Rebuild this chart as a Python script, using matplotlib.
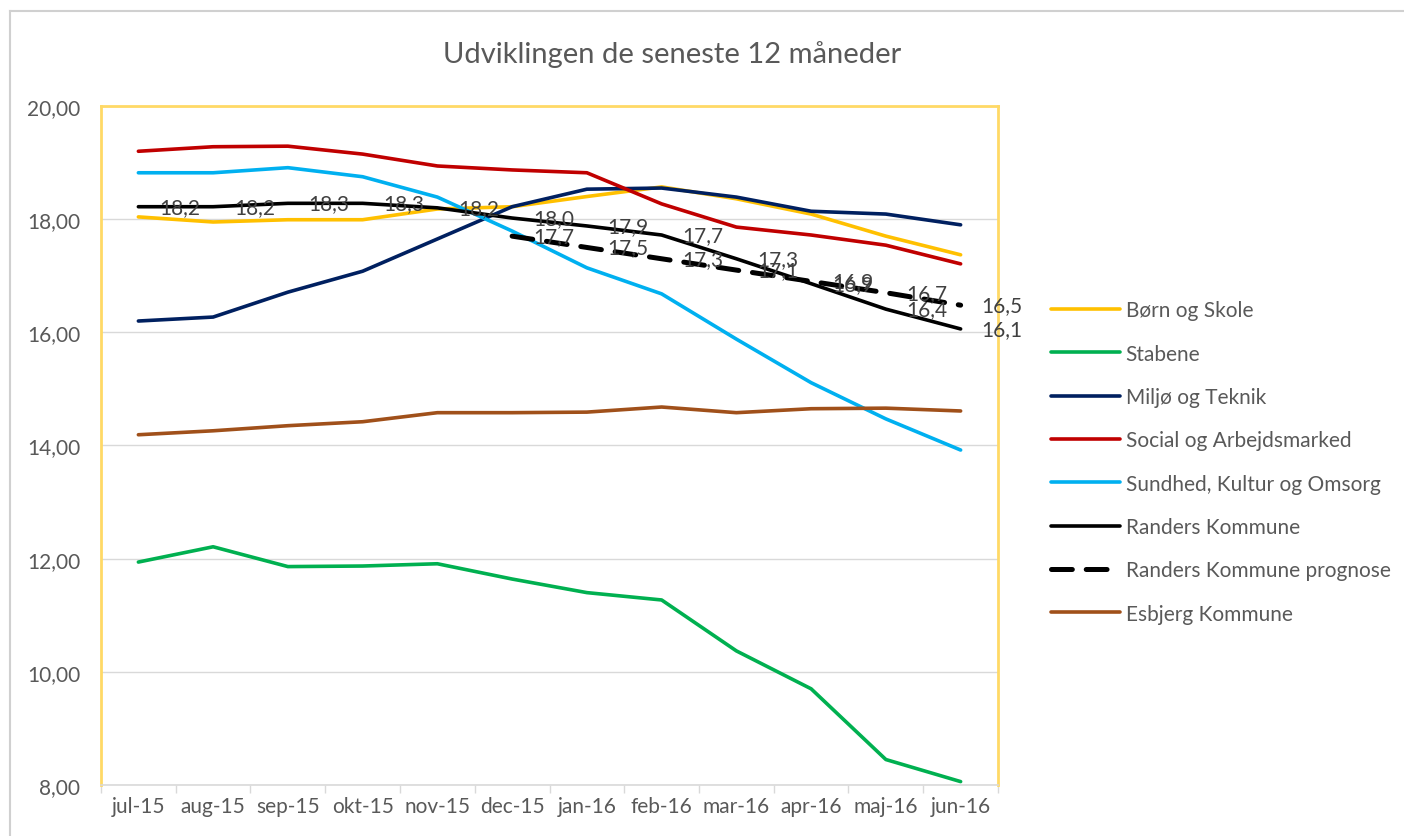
import matplotlib
matplotlib.use("Agg")
import numpy as np
import matplotlib.pyplot as plt
from matplotlib.lines import Line2D
from matplotlib.ticker import FuncFormatter, FixedLocator

plt.rcParams["font.family"] = ["Lato", "DejaVu Sans"]
plt.rcParams["lines.scale_dashes"] = False

maaneder = ["jul-15", "aug-15", "sep-15", "okt-15", "nov-15", "dec-15",
            "jan-16", "feb-16", "mar-16", "apr-16", "maj-16", "jun-16"]

born_skole = [18.04, 17.95, 17.99, 17.99, 18.18, 18.22, 18.40, 18.57, 18.36, 18.09, 17.70, 17.37]
stabene = [11.94, 12.21, 11.86, 11.87, 11.91, 11.64, 11.40, 11.27, 10.37, 9.70, 8.45, 8.06]
miljo_teknik = [16.20, 16.27, 16.71, 17.08, 17.65, 18.22, 18.53, 18.55, 18.39, 18.14, 18.09, 17.90]
social = [19.20, 19.28, 19.29, 19.15, 18.94, 18.87, 18.82, 18.27, 17.86, 17.72, 17.54, 17.21]
sundhed = [18.82, 18.82, 18.91, 18.75, 18.39, 17.79, 17.14, 16.68, 15.88, 15.11, 14.47, 13.92]
randers = [18.22, 18.22, 18.28, 18.28, 18.20, 18.02, 17.88, 17.72, 17.30, 16.86, 16.41, 16.06]
randers_prognose = [np.nan] * 5 + [17.70, 17.50, 17.30, 17.10, 16.90, 16.70, 16.48]
esbjerg = [14.19, 14.26, 14.35, 14.42, 14.58, 14.58, 14.59, 14.68, 14.58, 14.65, 14.66, 14.61]

serier = [
    ("Børn og Skole", born_skole, "#FFC000", "-"),
    ("Stabene", stabene, "#00B050", "-"),
    ("Miljø og Teknik", miljo_teknik, "#002060", "-"),
    ("Social og Arbejdsmarked", social, "#C00000", "-"),
    ("Sundhed, Kultur og Omsorg", sundhed, "#00B0F0", "-"),
    ("Randers Kommune", randers, "#000000", "-"),
    ("Randers Kommune prognose", randers_prognose, "#000000", "--"),
    ("Esbjerg Kommune", esbjerg, "#A0501A", "-"),
]

tekst_farve = "#595959"

fig = plt.figure(figsize=(14.04, 8.37), dpi=100)
ax = fig.add_axes([101 / 1404, 1 - 786 / 837, 897 / 1404, 679 / 837])

x = np.arange(len(maaneder))
for navn, vaerdier, farve, stil in serier:
    if stil == "--":
        ax.plot(x, vaerdier, color=farve, linewidth=3.6, dashes=(15, 10),
                dash_capstyle="round", label=navn, clip_on=False)
    else:
        ax.plot(x, vaerdier, color=farve, linewidth=2.6, label=navn,
                solid_capstyle="round", clip_on=False)

# datalabels for Randers (faktisk og prognose)
for vaerdier in (randers, randers_prognose):
    for xi, v in zip(x, vaerdier):
        if np.isnan(v):
            continue
        ax.annotate(f"{v:.1f}".replace(".", ","), (xi, v), xytext=(15, 0),
                    textcoords="offset points", ha="left", va="center",
                    fontsize=15, color="#404040", annotation_clip=False)

ax.set_xlim(-0.5, len(maaneder) - 0.5)
ax.set_ylim(8, 20)
ax.set_yticks(np.arange(8, 20.1, 2))
ax.yaxis.set_major_formatter(FuncFormatter(lambda v, p: f"{v:.2f}".replace(".", ",")))
ax.set_xticks(x)
ax.set_xticklabels(maaneder)
ax.xaxis.set_minor_locator(FixedLocator(np.arange(-0.5, len(maaneder), 1)))
ax.tick_params(axis="x", which="major", length=0, pad=8, labelsize=15, labelcolor=tekst_farve)
ax.tick_params(axis="x", which="minor", length=6, width=1, color="#D9D9D9")
ax.tick_params(axis="y", length=0, pad=15, labelsize=15, labelcolor=tekst_farve)

ax.grid(axis="y", color="#D9D9D9", linewidth=1)
ax.set_axisbelow(True)
for side in ("left", "top", "right"):
    ax.spines[side].set_color("#FFD966")
    ax.spines[side].set_linewidth(2)
ax.spines["bottom"].set_color("#D9D9D9")
ax.spines["bottom"].set_linewidth(1.2)

fig.text(672 / 1404, 1 - 55 / 837, "Udviklingen de seneste 12 måneder",
         ha="center", va="center", fontsize=21, color=tekst_farve)

fig.legend(loc="center left", bbox_to_anchor=(1032 / 1404, 1 - 463 / 837),
           frameon=False, fontsize=15, labelcolor=tekst_farve,
           handlelength=3.3, handletextpad=0.3, labelspacing=1.12)

# ydre ramme (grå kant øverst og til venstre)
fig.add_artist(Line2D([10 / 1404, 1], [1 - 12 / 837] * 2, color="#D0D0D0", linewidth=1.5))
fig.add_artist(Line2D([10 / 1404] * 2, [0, 1 - 12 / 837], color="#D0D0D0", linewidth=1.5))

fig.savefig("out.png", dpi=100)
